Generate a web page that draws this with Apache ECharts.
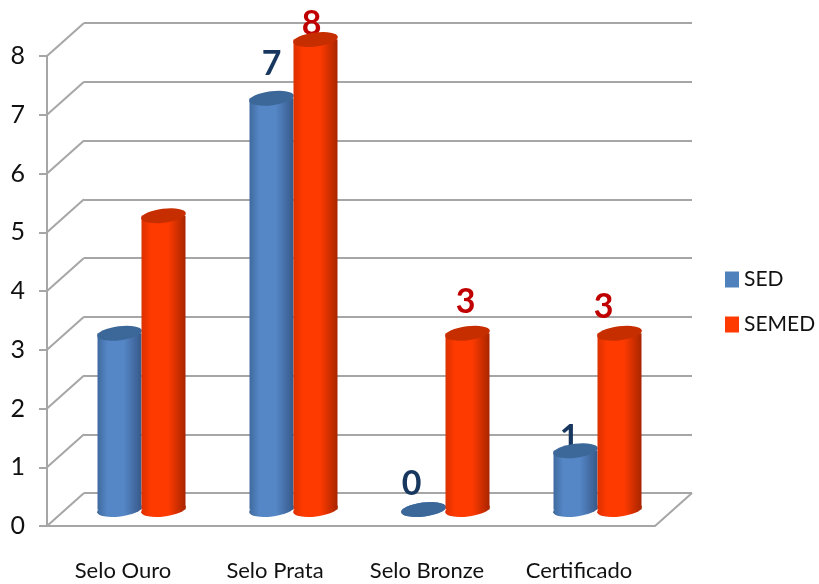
<!DOCTYPE html>
<html>
<head>
<meta charset="utf-8">
<style>html,body{margin:0;padding:0;background:#fff}#c{width:819px;height:584px}</style>
<script src="https://cdn.jsdelivr.net/npm/echarts@6/dist/echarts.min.js"></script>
</head>
<body>
<div id="c"></div>
<script>
const categories = ['Selo Ouro', 'Selo Prata', 'Selo Bronze', 'Certificado'];
const sedValues = [3, 7, 0, 1];
const semedValues = [5, 8, 3, 3];
const baseValues = [0, 0, 0, 0];
const yTicks = [0, 1, 2, 3, 4, 5, 6, 7, 8];
const sedLabelShown = [false, true, true, true];
const semedLabelShown = [false, true, true, true];
const sedLabelNudge = [[0, 0], [0, -12], [-12, -3], [-6, 9]];
const semedLabelNudge = [[0, 0], [-4, 7], [-2, -9], [-16, -4]];

const FONT = 'Lato, sans-serif';
const BW = 44, DEPTH_X = 37, DEPTH_Y = 33;
const gradient = (a, b, c) => ({
  type: 'linear', x: 0, y: 0, x2: 1, y2: 0,
  colorStops: [
    {offset: 0, color: a}, {offset: 0.22, color: b}, {offset: 0.6, color: b},
    {offset: 1, color: c}
  ]
});
const blueFill = gradient('#3F6A9E', '#5586C6', '#37598A');
const redFill = gradient('#DD3000', '#FF3A00', '#A82500');

function body(name, values, fill, z, shown, nudge, labelColor) {
  return {
    name, type: 'bar', xAxisIndex: 2, yAxisIndex: 2, barWidth: BW, barGap: 0, z,
    itemStyle: {color: fill},
    data: values.map((v, i) => ({
      value: v,
      label: {
        show: shown[i], position: 'top', offset: nudge[i], color: labelColor,
        fontFamily: FONT, fontWeight: 'bold', fontSize: 34
      }
    }))
  };
}
function cap(name, values, fill, z, dx) {
  return {
    name, type: 'scatter', xAxisIndex: 2, yAxisIndex: 2, z, clip: false, silent: true,
    symbol: 'circle', symbolSize: [BW + 1, 14], symbolRotate: 7, symbolOffset: [dx, 0],
    itemStyle: {color: fill, opacity: 1},
    data: values
  };
}
const axisLineGrey = {color: '#A6A6A6', width: 2};
const option = {
  animation: false,
  backgroundColor: '#fff',
  legend: {
    orient: 'vertical', left: 720, top: 264, itemWidth: 14, itemHeight: 16, itemGap: 24,
    icon: 'rect',
    textStyle: {fontFamily: FONT, fontSize: 21, color: '#111'},
    data: [
      {name: 'SED', itemStyle: {color: '#4F81BD'}},
      {name: 'SEMED', itemStyle: {color: '#FF3A00'}}
    ]
  },
  grid: [
    {left: 47, top: 56, width: 608, height: 470},
    {left: 47 + DEPTH_X, top: 56 - DEPTH_Y, width: 608, height: 470},
    {left: 47 + DEPTH_X / 2, top: 56 - DEPTH_Y / 2, width: 608, height: 470}
  ],
  xAxis: [
    {
      gridIndex: 0, type: 'category', data: categories,
      axisLine: {lineStyle: axisLineGrey},
      axisTick: {length: 10, lineStyle: axisLineGrey},
      axisLabel: {margin: 34, fontFamily: FONT, fontSize: 22, color: '#111', interval: 0}
    },
    {gridIndex: 1, type: 'category', data: categories, show: false},
    {gridIndex: 2, type: 'category', data: categories, show: false}
  ],
  yAxis: [
    {
      gridIndex: 0, type: 'value', min: 0, max: 8, interval: 1,
      axisLine: {show: true, lineStyle: axisLineGrey},
      axisTick: {show: true, length: 8, lineStyle: axisLineGrey},
      splitLine: {show: false},
      axisLabel: {margin: 22, fontFamily: FONT, fontSize: 25, color: '#111', padding: [5, 0, 0, 0]}
    },
    {
      gridIndex: 1, type: 'value', min: 0, max: 8, interval: 1,
      axisLine: {show: false}, axisTick: {show: false}, axisLabel: {show: false},
      splitLine: {show: true, lineStyle: axisLineGrey}
    },
    {gridIndex: 2, type: 'value', min: 0, max: 8, interval: 1, show: false, splitLine: {show: false}}
  ],
  series: [
    {
      type: 'custom', xAxisIndex: 0, yAxisIndex: 0, z: 1, silent: true, clip: false,
      data: yTicks,
      renderItem(params, api) {
        const v = api.value(0);
        const halfBand = api.size([1, 0])[0] / 2;
        const a = api.coord([categories[0], v]);
        const x = a[0] - halfBand;
        const lines = [{
          type: 'line',
          shape: {x1: x, y1: a[1], x2: x + DEPTH_X, y2: a[1] - DEPTH_Y},
          style: {stroke: '#A6A6A6', lineWidth: 2}
        }];
        if (v === 0) {
          const r = api.coord([categories[categories.length - 1], v])[0] + halfBand;
          lines.push({
            type: 'line',
            shape: {x1: r, y1: a[1], x2: r + DEPTH_X, y2: a[1] - DEPTH_Y},
            style: {stroke: '#A6A6A6', lineWidth: 2}
          });
        }
        return {type: 'group', children: lines};
      },
      encode: {y: 0}
    },
    cap('SED', baseValues, blueFill, 2, -BW / 2),
    body('SED', sedValues, blueFill, 3, sedLabelShown, sedLabelNudge, '#17375E'),
    cap('SED', sedValues, '#3C6899', 4, -BW / 2),
    cap('SEMED', baseValues, redFill, 5, BW / 2),
    body('SEMED', semedValues, redFill, 6, semedLabelShown, semedLabelNudge, '#C00000'),
    cap('SEMED', semedValues, '#C62E00', 7, BW / 2)
  ]
};
echarts.init(document.getElementById('c'), null, {renderer: 'canvas'}).setOption(option);
</script>
</body>
</html>
